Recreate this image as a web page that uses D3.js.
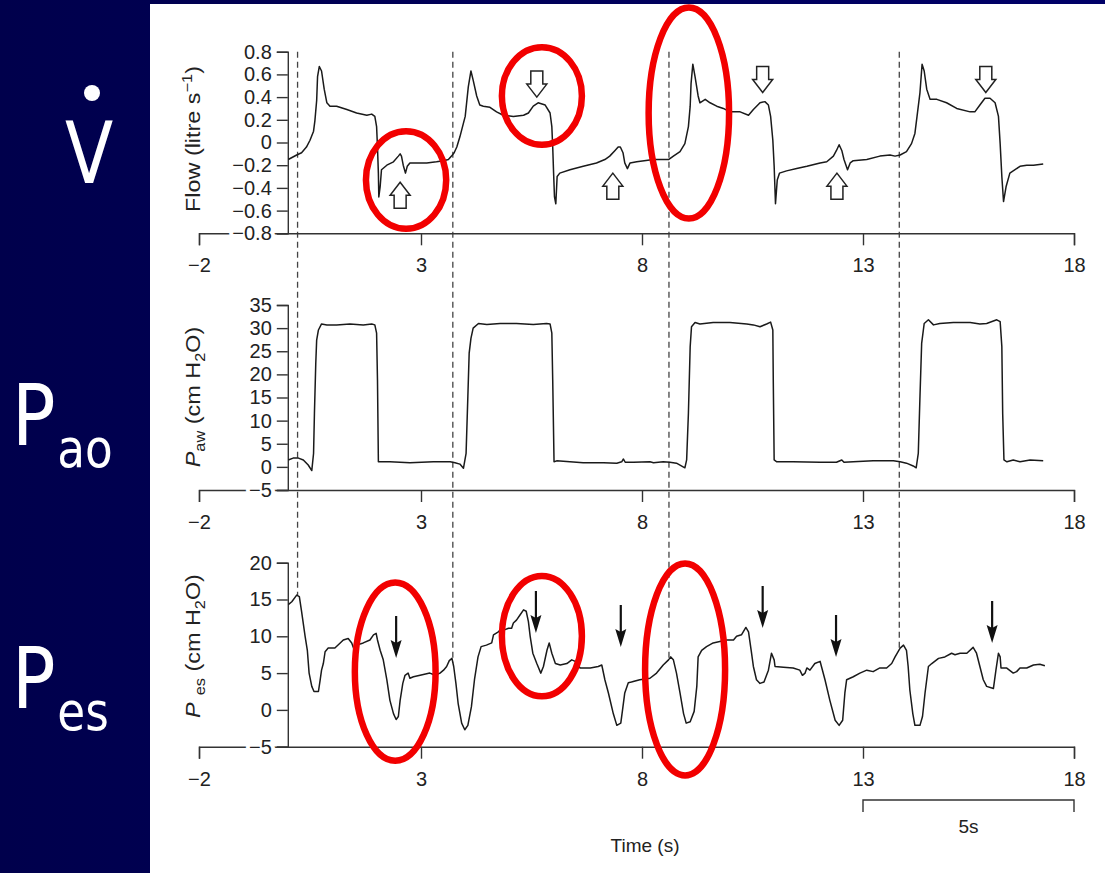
<!DOCTYPE html>
<html>
<head>
<meta charset="utf-8">
<script src="https://cdn.jsdelivr.net/npm/d3@7"></script>
<style>
  body { margin: 0; background: #000060; }
  svg { display: block; }
  .axis { color: #333; }
  .axis text { font-family: "Liberation Sans", Arial, sans-serif; font-size: 20px; fill: #222; }
  .axis path, .axis line { stroke-width: 1.4; }
  .yaxis text { paint-order: stroke; stroke: #fff; stroke-width: 8px; stroke-linejoin: round; }
  .title { font-family: "Liberation Sans", Arial, sans-serif; font-size: 19px; fill: #222; }
  .ytitle { font-size: 20px; }
  .side { font-family: "Comic Sans MS", "DejaVu Sans", sans-serif; fill: #fff; }
</style>
</head>
<body>
<svg id="chart" width="1105" height="873"></svg>
<script>
// time axis (s)
var timeTicks = [-2, 3, 8, 13, 18]

// flow trace: [time (s), flow (litre/s)]
var flow = [[0.01,-0.15],[0.20,-0.11],[0.31,-0.09],[0.42,-0.04],[0.50,0.02],[0.58,0.10],[0.61,0.19],[0.65,0.37],[0.67,0.58],[0.71,0.67],[0.76,0.63],[0.82,0.47],[0.88,0.35],[0.95,0.32],[1.10,0.32],[1.33,0.29],[1.55,0.26],[1.78,0.24],[1.89,0.25],[1.96,0.23],[2.00,0.14],[2.02,-0.04],[2.04,-0.27],[2.05,-0.48],[2.08,-0.39],[2.11,-0.24],[2.23,-0.20],[2.38,-0.17],[2.49,-0.12],[2.53,-0.10],[2.56,-0.12],[2.60,-0.20],[2.65,-0.27],[2.69,-0.21],[2.75,-0.18],[2.90,-0.18],[3.13,-0.18],[3.35,-0.17],[3.51,-0.16],[3.62,-0.15],[3.69,-0.12],[3.75,-0.09],[3.81,-0.04],[3.88,0.05],[4.00,0.23],[4.07,0.49],[4.13,0.63],[4.18,0.55],[4.26,0.41],[4.33,0.33],[4.41,0.32],[4.56,0.31],[4.71,0.27],[4.86,0.24],[5.09,0.23],[5.32,0.24],[5.43,0.26],[5.54,0.32],[5.65,0.35],[5.81,0.33],[5.92,0.26],[5.96,0.14],[5.98,-0.04],[6.00,-0.27],[6.02,-0.48],[6.05,-0.54],[6.08,-0.30],[6.14,-0.27],[6.37,-0.24],[6.67,-0.21],[6.97,-0.18],[7.16,-0.15],[7.27,-0.12],[7.39,-0.07],[7.46,-0.04],[7.51,-0.04],[7.57,-0.09],[7.61,-0.18],[7.67,-0.23],[7.73,-0.18],[7.88,-0.17],[8.26,-0.15],[8.60,-0.15],[8.71,-0.12],[8.86,-0.08],[8.97,-0.01],[9.05,0.14],[9.09,0.32],[9.11,0.52],[9.15,0.69],[9.20,0.58],[9.27,0.41],[9.31,0.35],[9.43,0.38],[9.54,0.35],[9.69,0.32],[9.84,0.30],[9.99,0.27],[10.22,0.27],[10.41,0.24],[10.52,0.29],[10.67,0.35],[10.78,0.36],[10.86,0.33],[10.91,0.23],[10.96,0.02],[10.99,-0.21],[11.02,-0.54],[11.06,-0.33],[11.11,-0.27],[11.27,-0.25],[11.50,-0.23],[11.73,-0.21],[12.03,-0.18],[12.18,-0.17],[12.33,-0.12],[12.40,-0.07],[12.46,-0.02],[12.52,-0.07],[12.57,-0.15],[12.65,-0.24],[12.71,-0.18],[12.78,-0.16],[13.09,-0.15],[13.40,-0.12],[13.64,-0.11],[13.76,-0.12],[13.88,-0.11],[14.03,-0.08],[14.15,-0.01],[14.23,0.08],[14.27,0.20],[14.35,0.44],[14.40,0.69],[14.45,0.63],[14.51,0.47],[14.59,0.38],[14.75,0.38],[14.98,0.35],[15.22,0.30],[15.54,0.27],[15.65,0.27],[15.77,0.33],[15.89,0.39],[16.01,0.39],[16.13,0.35],[16.21,0.23],[16.25,-0.01],[16.29,-0.30],[16.33,-0.52],[16.39,-0.39],[16.48,-0.27],[16.72,-0.21],[16.88,-0.20],[17.04,-0.20],[17.27,-0.19]]

// airway pressure: [time (s), cm H2O]
var paw = [[0.01,1.5],[0.12,1.9],[0.24,1.9],[0.35,1.5],[0.46,0.4],[0.54,-0.8],[0.58,2.9],[0.60,11.6],[0.63,22.4],[0.65,27.4],[0.69,29.6],[0.76,30.9],[0.88,30.7],[1.10,30.7],[1.40,30.9],[1.70,30.7],[1.89,30.9],[1.96,30.7],[2.00,28.9],[2.02,18.8],[2.04,1.1],[2.08,1.1],[2.30,1.1],[2.75,0.9],[3.28,1.1],[3.66,1.1],[3.77,0.9],[3.88,0.6],[3.96,-0.3],[4.02,2.9],[4.06,15.2],[4.09,24.6],[4.13,27.8],[4.18,30.0],[4.30,31.0],[4.49,30.8],[4.79,31.0],[5.16,31.0],[5.54,30.8],[5.84,31.0],[5.92,30.9],[5.96,28.9],[5.98,18.8],[6.01,1.1],[6.07,1.3],[6.37,1.1],[6.67,0.9],[7.13,0.9],[7.43,0.8],[7.54,1.1],[7.58,1.7],[7.62,1.0],[7.81,1.0],[8.18,1.1],[8.26,0.9],[8.48,1.1],[8.63,1.0],[8.78,0.8],[8.97,-0.2],[9.01,1.5],[9.05,11.6],[9.09,26.0],[9.12,30.3],[9.20,31.2],[9.31,30.9],[9.61,31.2],[9.99,31.2],[10.37,30.9],[10.52,30.7],[10.67,30.3],[10.82,30.9],[10.91,31.3],[10.96,29.6],[10.97,18.8],[10.99,1.5],[11.05,1.1],[11.42,1.1],[12.03,1.0],[12.40,1.0],[12.52,1.5],[12.57,1.0],[12.78,1.1],[13.24,1.3],[13.72,1.3],[13.88,1.1],[14.03,0.8],[14.19,0.2],[14.26,-0.2],[14.31,2.9],[14.35,15.2],[14.39,26.7],[14.45,31.0],[14.55,31.8],[14.67,30.7],[14.82,31.0],[15.14,31.2],[15.54,31.2],[15.77,30.9],[15.93,31.0],[16.17,31.8],[16.25,31.4],[16.29,26.0],[16.31,11.6],[16.34,1.5],[16.41,1.1],[16.56,1.5],[16.72,1.1],[16.96,1.5],[17.27,1.3]]

// oesophageal pressure: [time (s), cm H2O]
var pes = [[0.01,14.3],[0.09,14.7],[0.20,15.6],[0.26,15.4],[0.31,13.4],[0.39,10.0],[0.44,8.1],[0.48,5.0],[0.54,3.2],[0.59,2.5],[0.69,2.5],[0.73,4.1],[0.76,5.4],[0.80,6.3],[0.84,7.9],[0.91,8.4],[1.06,8.4],[1.18,9.1],[1.25,9.5],[1.36,9.7],[1.44,9.1],[1.48,8.4],[1.55,8.8],[1.70,9.1],[1.85,9.5],[1.93,10.2],[1.99,10.4],[2.02,9.5],[2.08,8.1],[2.15,6.8],[2.23,4.1],[2.30,1.3],[2.38,-0.5],[2.44,-1.3],[2.49,-0.9],[2.53,1.3],[2.59,3.6],[2.64,4.7],[2.71,5.0],[2.75,4.3],[2.83,4.5],[2.98,4.7],[3.20,5.0],[3.32,4.7],[3.43,5.0],[3.51,5.4],[3.58,5.9],[3.64,6.7],[3.70,7.0],[3.74,5.9],[3.79,3.6],[3.84,0.9],[3.92,-1.8],[3.99,-2.7],[4.06,-2.1],[4.14,0.4],[4.21,4.1],[4.29,7.2],[4.36,8.6],[4.48,8.8],[4.60,9.1],[4.64,10.2],[4.75,10.6],[4.83,11.1],[4.90,10.9],[4.98,11.1],[5.05,11.1],[5.09,11.8],[5.16,12.2],[5.24,12.9],[5.32,13.6],[5.38,13.4],[5.43,12.0],[5.47,10.0],[5.53,7.7],[5.62,6.3],[5.71,5.0],[5.77,5.9],[5.85,8.1],[5.90,9.1],[5.96,7.7],[6.04,6.3],[6.15,6.1],[6.30,6.3],[6.41,6.8],[6.49,6.6],[6.60,5.7],[6.83,5.7],[7.01,5.9],[7.09,6.1],[7.16,4.1],[7.24,2.3],[7.35,-0.5],[7.43,-2.1],[7.52,-1.8],[7.56,0.0],[7.61,2.3],[7.69,3.7],[7.76,3.8],[7.95,4.1],[8.18,4.3],[8.33,5.0],[8.48,6.1],[8.60,6.8],[8.65,7.2],[8.71,6.8],[8.78,5.0],[8.86,2.3],[8.94,-0.5],[9.00,-1.8],[9.09,-1.6],[9.18,-0.2],[9.24,3.2],[9.27,7.2],[9.35,8.1],[9.46,8.6],[9.61,9.1],[9.76,9.3],[9.92,9.5],[10.07,9.5],[10.14,10.0],[10.25,10.2],[10.35,11.2],[10.41,10.6],[10.47,8.1],[10.52,5.9],[10.59,4.1],[10.67,3.6],[10.76,3.8],[10.86,5.4],[10.93,7.7],[10.99,6.8],[11.01,5.9],[11.20,5.8],[11.42,5.7],[11.57,5.4],[11.63,4.7],[11.69,5.0],[11.73,5.7],[11.80,5.4],[11.91,6.3],[12.03,6.6],[12.06,5.9],[12.14,4.1],[12.25,1.3],[12.37,-1.4],[12.46,-2.1],[12.54,-1.4],[12.59,2.3],[12.63,4.1],[12.78,4.5],[12.93,5.0],[13.09,5.4],[13.24,5.2],[13.40,5.7],[13.56,5.7],[13.68,6.3],[13.76,7.2],[13.88,8.4],[13.96,8.8],[14.03,8.1],[14.07,5.9],[14.11,2.7],[14.18,-0.5],[14.23,-2.1],[14.35,-2.1],[14.41,-0.9],[14.47,2.3],[14.55,5.9],[14.63,6.3],[14.79,7.0],[14.94,7.2],[15.10,7.7],[15.18,7.5],[15.30,7.7],[15.46,7.7],[15.61,8.5],[15.69,7.7],[15.77,5.9],[15.85,4.1],[15.93,3.2],[16.09,2.9],[16.15,5.4],[16.21,7.7],[16.25,7.2],[16.27,5.7],[16.40,5.7],[16.56,5.0],[16.64,5.2],[16.72,5.7],[16.88,5.7],[17.04,6.1],[17.19,6.2],[17.31,6.0]]

var flowTicks = [-0.8, -0.6, -0.4, -0.2, 0, 0.2, 0.4, 0.6, 0.8]
var pawTicks = [-5, 0, 5, 10, 15, 20, 25, 30, 35]
var pesTicks = [-5, 0, 5, 10, 15, 20]

// patient efforts (dashed verticals), s
var triggerTimes = [0.22, 3.72, 8.61, 13.86]

// open arrows on flow: [time, flow at tip, direction]
var flowArrows = [[2.53, -0.35, 'up'], [5.62, 0.40, 'down'], [7.34, -0.27, 'up'],
                  [10.73, 0.44, 'down'], [12.41, -0.27, 'up'], [15.91, 0.44, 'down']]
// filled arrows on Pes: [time, Pes at tip]
var pesArrows = [[2.44, 7.05], [5.60, 10.45], [7.52, 8.55], [10.73, 11.13], [12.39, 7.19], [16.06, 9.09]]

// red rings: [t0, t1, top value, bottom value]
var flowRings = [[1.76, 3.57, 0.10, -0.76], [4.83, 6.64, 0.84, -0.02], [8.15, 9.97, 1.19, -0.67]]
var pesRings = [[1.51, 3.33, 17.3, -6.9], [4.83, 6.64, 18.2, 1.85], [8.07, 9.88, 19.9, -8.9]]

var svg = d3.select('#chart')

// dark slide background
var defs = svg.append('defs')
var grad = defs.append('linearGradient').attr('id', 'navy')
grad.append('stop').attr('offset', '0%').attr('stop-color', '#00004c')
grad.append('stop').attr('offset', '100%').attr('stop-color', '#000068')
svg.append('rect').attr('width', 1105).attr('height', 873).style('fill', 'url(#navy)')
svg.append('rect').attr('x', 150).attr('y', 4).attr('width', 955).attr('height', 869).style('fill', '#fff')

// time scale (the scanned figure is slightly uneven, so map every tick)
var x = d3.scaleLinear().domain(timeTicks).range([199, 421, 642, 863, 1074])

var yFlow = d3.scaleLinear().domain([-0.8, 0.8]).range([233.3, 51.7])
var yPaw = d3.scaleLinear().domain([-5, 35]).range([490, 305])
var yPes = d3.scaleLinear().domain([-5, 20]).range([746.7, 562.7])

var panels = [
    { data: flow, y: yFlow, ticks: flowTicks, fmt: function (d) { return d === 0 ? '0' : d3.format('.1f')(d) } },
    { data: paw, y: yPaw, ticks: pawTicks, fmt: d3.format('d') },
    { data: pes, y: yPes, ticks: pesTicks, fmt: d3.format('d') }
]

var line = d3.line()
    .x(function (d) { return x(d[0]) })

function valueAt(data, t) {
    var i = d3.bisector(function (d) { return d[0] }).left(data, t)
    var a = data[Math.max(i - 1, 0)], b = data[Math.min(i, data.length - 1)]
    if (a === b) return a[1]
    return a[1] + (b[1] - a[1]) * (t - a[0]) / (b[0] - a[0])
}

// dashed lines, from top of flow panel down to the Pes trace
svg.selectAll('.trigger')
    .data(triggerTimes)
    .enter().append('line')
    .attr('class', 'trigger')
    .attr('x1', function (d) { return x(d) })
    .attr('x2', function (d) { return x(d) })
    .attr('y1', yFlow(0.8))
    .attr('y2', function (d) { return yPes(valueAt(pes, d)) })
    .style('stroke', '#444')
    .style('stroke-width', 1.3)
    .style('stroke-dasharray', '6,4')

panels.forEach(function (p) {
    var base = p.y.range()[0]
    svg.append('g')
        .attr('class', 'axis')
        .attr('transform', 'translate(0,' + base + ')')
        .call(d3.axisBottom(x).tickValues(timeTicks).tickSize(12).tickPadding(13))
    svg.append('g')
        .attr('class', 'axis yaxis')
        .attr('transform', 'translate(' + x(0) + ',0)')
        .call(d3.axisLeft(p.y).tickValues(p.ticks).tickSize(11).tickPadding(5).tickFormat(p.fmt))
    svg.append('path')
        .datum(p.data)
        .attr('d', line.y(function (d) { return p.y(d[1]) }))
        .style('fill', 'none')
        .style('stroke', '#1a1a1a')
        .style('stroke-width', 1.5)
        .style('stroke-linejoin', 'round')
})

// axis titles (the scanned figure is stretched a little vertically)
function yTitle(cy) {
    return svg.append('text').attr('class', 'title ytitle')
        .attr('transform', 'translate(200,' + cy + ') rotate(-90) scale(1.17,1)')
        .attr('text-anchor', 'middle')
}
var t1 = yTitle(139)
t1.append('tspan').text('Flow (litre s')
t1.append('tspan').attr('dy', -8).style('font-size', '14px').text('\u22121')
t1.append('tspan').attr('dy', 8).text(')')

var t2 = yTitle(397)
t2.append('tspan').style('font-style', 'italic').text('P')
t2.append('tspan').attr('dy', 5).style('font-size', '14px').text('aw')
t2.append('tspan').attr('dy', -5).text(' (cm H')
t2.append('tspan').attr('dy', 5).style('font-size', '14px').text('2')
t2.append('tspan').attr('dy', -5).text('O)')

var t3 = yTitle(646)
t3.append('tspan').style('font-style', 'italic').text('P')
t3.append('tspan').attr('dx', 6).attr('dy', 5).style('font-size', '14px').text('es')
t3.append('tspan').attr('dy', -5).text(' (cm H')
t3.append('tspan').attr('dy', 5).style('font-size', '14px').text('2')
t3.append('tspan').attr('dy', -5).text('O)')

svg.append('text').attr('class', 'title')
    .attr('x', x(8) + 3).attr('y', 852)
    .attr('text-anchor', 'middle')
    .text('Time (s)')

// 5 s scale bar
svg.append('path')
    .attr('d', 'M' + x(13) + ',812V800H' + x(18) + 'V812')
    .style('fill', 'none').style('stroke', '#333').style('stroke-width', 1.4)
svg.append('text').attr('class', 'title')
    .attr('x', (x(13) + x(18)) / 2).attr('y', 833)
    .attr('text-anchor', 'middle')
    .text('5s')

// open block arrows on flow
svg.selectAll('.oarrow')
    .data(flowArrows)
    .enter().append('path')
    .attr('class', 'oarrow')
    .attr('transform', function (d) {
        return 'translate(' + x(d[0]) + ',' + yFlow(d[1]) + ')' + (d[2] === 'down' ? ' scale(1,-1)' : '')
    })
    .attr('d', 'M0,0L10,13H6V26H-6V13H-10Z')
    .style('fill', '#fff')
    .style('stroke', '#222')
    .style('stroke-width', 1.5)
    .style('stroke-linejoin', 'miter')

// filled arrows on Pes
var pa = svg.selectAll('.parrow')
    .data(pesArrows)
    .enter().append('g')
    .attr('class', 'parrow')
    .attr('transform', function (d) { return 'translate(' + x(d[0]) + ',' + yPes(d[1]) + ')' })
pa.append('line')
    .attr('y1', -42).attr('y2', -14)
    .style('stroke', '#111').style('stroke-width', 2.2)
pa.append('path')
    .attr('d', 'M0,0L-5.5,-18L0,-15L5.5,-18Z')
    .style('fill', '#111')

// red rings
function ring(sc) {
    return function (sel) {
        sel.attr('cx', function (d) { return (x(d[0]) + x(d[1])) / 2 })
            .attr('cy', function (d) { return (sc(d[2]) + sc(d[3])) / 2 })
            .attr('rx', function (d) { return (x(d[1]) - x(d[0])) / 2 })
            .attr('ry', function (d) { return (sc(d[3]) - sc(d[2])) / 2 })
            .style('fill', 'none')
            .style('stroke', '#f20000')
            .style('stroke-width', 6.5)
    }
}
svg.selectAll('.fring').data(flowRings).enter().append('ellipse').attr('class', 'fring').call(ring(yFlow))
svg.selectAll('.pring').data(pesRings).enter().append('ellipse').attr('class', 'pring').call(ring(yPes))

// side labels on the slide
svg.append('text').attr('class', 'side')
    .attr('transform', 'translate(89,183) scale(0.82,1)')
    .attr('text-anchor', 'middle')
    .style('font-size', '86px')
    .text('V')
svg.append('circle').attr('cx', 92).attr('cy', 93).attr('r', 8).style('fill', '#fff')

var s2 = svg.append('text').attr('class', 'side')
    .attr('transform', 'translate(12,445) scale(0.84,1)').style('font-size', '86px')
s2.append('tspan').text('P')
s2.append('tspan').attr('dx', 2).attr('dy', 22).style('font-size', '54px').text('ao')

var s3 = svg.append('text').attr('class', 'side')
    .attr('transform', 'translate(12,708) scale(0.84,1)').style('font-size', '86px')
s3.append('tspan').text('P')
s3.append('tspan').attr('dx', 2).attr('dy', 22).style('font-size', '54px').text('es')
</script>
</body>
</html>
